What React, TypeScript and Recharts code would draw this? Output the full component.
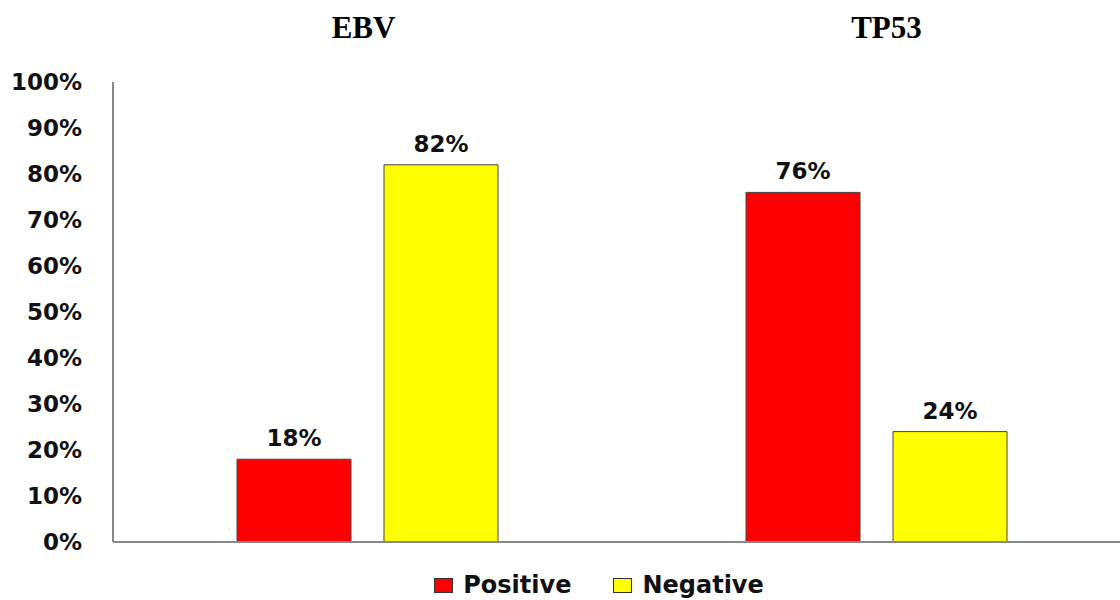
import { BarChart, Bar, XAxis, YAxis, Legend, LabelList } from 'recharts';

const markers = ['EBV', 'TP53'];
const positive = [18, 76];
const negative = [82, 24];
const yTicks = [0, 10, 20, 30, 40, 50, 60, 70, 80, 90, 100];

const data = markers.map((name, i) => ({ name, positive: positive[i], negative: negative[i] }));

const sans = '"DejaVu Sans", Verdana, sans-serif';
const titleShift: Record<string, number> = { EBV: -4, TP53: 10 };

const MarkerTitle = (props: any) => {
  const { x, payload } = props;
  return (
    <text
      x={x + (titleShift[payload.value] ?? 0)}
      y={38}
      textAnchor="middle"
      fontFamily='"Liberation Serif", "Times New Roman", serif'
      fontWeight="bold"
      fontSize={31}
      fill="#000"
    >
      {payload.value}
    </text>
  );
};

const LegendContent = () => {
  const items = [
    { label: 'Positive', color: '#ff0000' },
    { label: 'Negative', color: '#ffff00' },
  ];
  return (
    <div style={{ display: 'flex', justifyContent: 'center', gap: 42, paddingLeft: 78, fontFamily: sans, fontWeight: 'bold', fontSize: 24, lineHeight: '26px', color: '#111' }}>
      {items.map((it) => (
        <div key={it.label} style={{ display: 'flex', alignItems: 'center', gap: 10 }}>
          <span style={{ width: 17, height: 13, background: it.color, border: '1px solid #333', display: 'inline-block' }} />
          <span>{it.label}</span>
        </div>
      ))}
    </div>
  );
};

export default function App() {
  return (
    <div style={{ position: 'fixed', top: 0, left: 0, width: 1120, height: 600, overflow: 'hidden', background: '#fff' }}>
      <BarChart
        width={1140}
        height={600}
        data={data}
        margin={{ top: 0, right: 9, bottom: 31, left: 0 }}
        barSize={114}
        barGap={33}
      >
        <XAxis
          dataKey="name"
          xAxisId="bottom"
          tick={false}
          tickLine={false}
          axisLine={{ stroke: '#888', strokeWidth: 2 }}
          height={1}
        />
        <XAxis
          dataKey="name"
          xAxisId="top"
          orientation="top"
          axisLine={false}
          tickLine={false}
          tick={<MarkerTitle />}
          height={82}
        />
        <YAxis
          domain={[0, 100]}
          ticks={yTicks}
          interval={0}
          width={113}
          tickFormatter={(v: number) => `${v}%`}
          tickLine={false}
          axisLine={{ stroke: '#888', strokeWidth: 2 }}
          tick={{ fill: '#111', fontFamily: sans, fontWeight: 'bold', fontSize: 23 }}
          tickMargin={25}
        />
        <Legend verticalAlign="bottom" align="left" wrapperStyle={{ width: 1120, left: 0, bottom: 2 }} content={<LegendContent />} />
        <Bar dataKey="positive" name="Positive" xAxisId="bottom" fill="#ff0000" stroke="#444" strokeWidth={1} isAnimationActive={false}>
          <LabelList dataKey="positive" position="top" offset={13} formatter={(v: number) => `${v}%`} fill="#111" fontFamily={sans} fontWeight="bold" fontSize={23} />
        </Bar>
        <Bar dataKey="negative" name="Negative" xAxisId="bottom" fill="#ffff00" stroke="#444" strokeWidth={1} isAnimationActive={false}>
          <LabelList dataKey="negative" position="top" offset={13} formatter={(v: number) => `${v}%`} fill="#111" fontFamily={sans} fontWeight="bold" fontSize={23} />
        </Bar>
      </BarChart>
    </div>
  );
}
